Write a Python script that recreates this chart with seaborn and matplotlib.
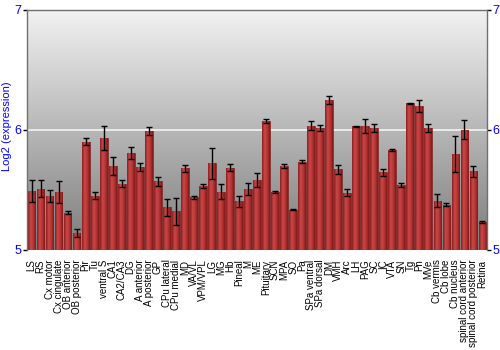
import numpy as np
import pandas as pd
import matplotlib
matplotlib.use("Agg")
import matplotlib.pyplot as plt
import seaborn as sns
from matplotlib.colors import LinearSegmentedColormap

regions = ["LS", "RS", "Cx motor", "Cx cingulate", "OB anterior", "OB posterior", "Pir", "Tu",
           "ventral S", "CA1", "CA2/CA3", "DG", "A anterior", "A posterior", "GP", "CPu lateral",
           "CPu medial", "MD", "VA/VL", "VPM/VPL", "LG", "MG", "Hb", "Pineal", "M", "ME",
           "Pituitary", "SCN", "MPA", "SO", "Pa", "SPa ventral", "SPa dorsal", "DM", "VMH", "Arc",
           "LH", "PAG", "SC", "IC", "VTA", "SN", "Tg", "Pn", "MVe", "Cb vermis", "Cb lobe",
           "Cb nucleus", "spinal cord anterior", "spinal cord posterior", "Retina"]
values = [5.49, 5.51, 5.45, 5.48, 5.31, 5.14, 5.90, 5.45,
          5.93, 5.70, 5.55, 5.81, 5.69, 5.99, 5.57, 5.355,
          5.32, 5.68, 5.44, 5.535, 5.72, 5.485, 5.685, 5.405, 5.505, 5.58,
          6.07, 5.48, 5.70, 5.335, 5.735, 6.035, 6.015, 6.25, 5.67, 5.475,
          6.03, 6.03, 6.015, 5.645, 5.83, 5.54, 6.22, 6.20, 6.015, 5.41, 5.375,
          5.80, 6.00, 5.655, 5.235]
errors = [0.09, 0.07, 0.05, 0.09, 0.01, 0.03, 0.03, 0.03,
          0.10, 0.075, 0.03, 0.05, 0.035, 0.035, 0.035, 0.07,
          0.11, 0.03, 0.013, 0.017, 0.13, 0.065, 0.03, 0.045, 0.05, 0.06,
          0.017, 0.01, 0.017, 0.003, 0.01, 0.035, 0.027, 0.035, 0.035, 0.03,
          0.005, 0.06, 0.037, 0.033, 0.01, 0.017, 0.005, 0.05, 0.035, 0.055, 0.012,
          0.15, 0.08, 0.047, 0.007]
y_ticks = [5, 6, 7]

df = pd.DataFrame({"region": regions, "value": values, "err": errors})

sns.set_theme(style="white")
plt.rcParams['font.family'] = ['Liberation Sans', 'DejaVu Sans']

fig = plt.figure(figsize=(5, 3.5), dpi=100)
ax = fig.add_axes([0.054, 0.286, 0.92, 0.686])

# gradient background (light at top, darker at bottom)
grad = np.linspace(0, 1, 256).reshape(-1, 1)
bg_cmap = LinearSegmentedColormap.from_list("bg", ["#f2f2f2", "#7c7c7c"])
ax.imshow(grad, cmap=bg_cmap, aspect="auto", extent=[0, 1, 0, 1], origin="upper",
          transform=ax.transAxes, zorder=0)

ax.axhline(6, color="#f4f4f4", lw=1.2, zorder=1)

sns.barplot(data=df, x="region", y="value", color="#b53434", width=0.86,
            edgecolor="#7a1f1f", linewidth=0.5, errorbar=None, ax=ax, zorder=2)

# horizontal gradient on each bar
bar_cmap = LinearSegmentedColormap.from_list("bar", ["#8a1e1e", "#c84848", "#b83434", "#7d1a1a"])
hgrad = np.linspace(0, 1, 64).reshape(1, -1)
for p in ax.patches:
    x0 = p.get_x(); w = p.get_width(); h = p.get_height(); y0 = p.get_y()
    im = ax.imshow(hgrad, cmap=bar_cmap, aspect="auto",
                   extent=[x0, x0 + w, 5, y0 + h], zorder=2.5)
    im.set_clip_path(p)

ax.errorbar(np.arange(len(regions)), values, yerr=errors, fmt="none",
            ecolor="black", elinewidth=1, capsize=2, capthick=1, zorder=3)

ax.set_ylim(5, 7)
ax.set_xlim(-0.5, len(regions) - 0.5)
ax.set_yticks(y_ticks)
ax.set_yticklabels([str(t) for t in y_ticks])
ax.tick_params(axis="y", which="both", left=True, right=True, labelleft=True,
               labelright=True, length=3, width=1, color="black",
               labelcolor="blue", labelsize=9, pad=1)
ax.tick_params(axis="x", bottom=False, labelsize=7, pad=1, labelcolor="black")
plt.setp(ax.get_xticklabels(), rotation=90)
ax.set_xlabel("")
ax.set_ylabel("Log2 (expression)", color="blue", fontsize=8)
ax.yaxis.set_label_coords(-0.032, 0.517)

for s in ["left", "right", "top"]:
    ax.spines[s].set_visible(True)
    ax.spines[s].set_color("#707070")
    ax.spines[s].set_linewidth(1)
ax.spines["bottom"].set_visible(False)

fig.savefig("out.png", dpi=100)
